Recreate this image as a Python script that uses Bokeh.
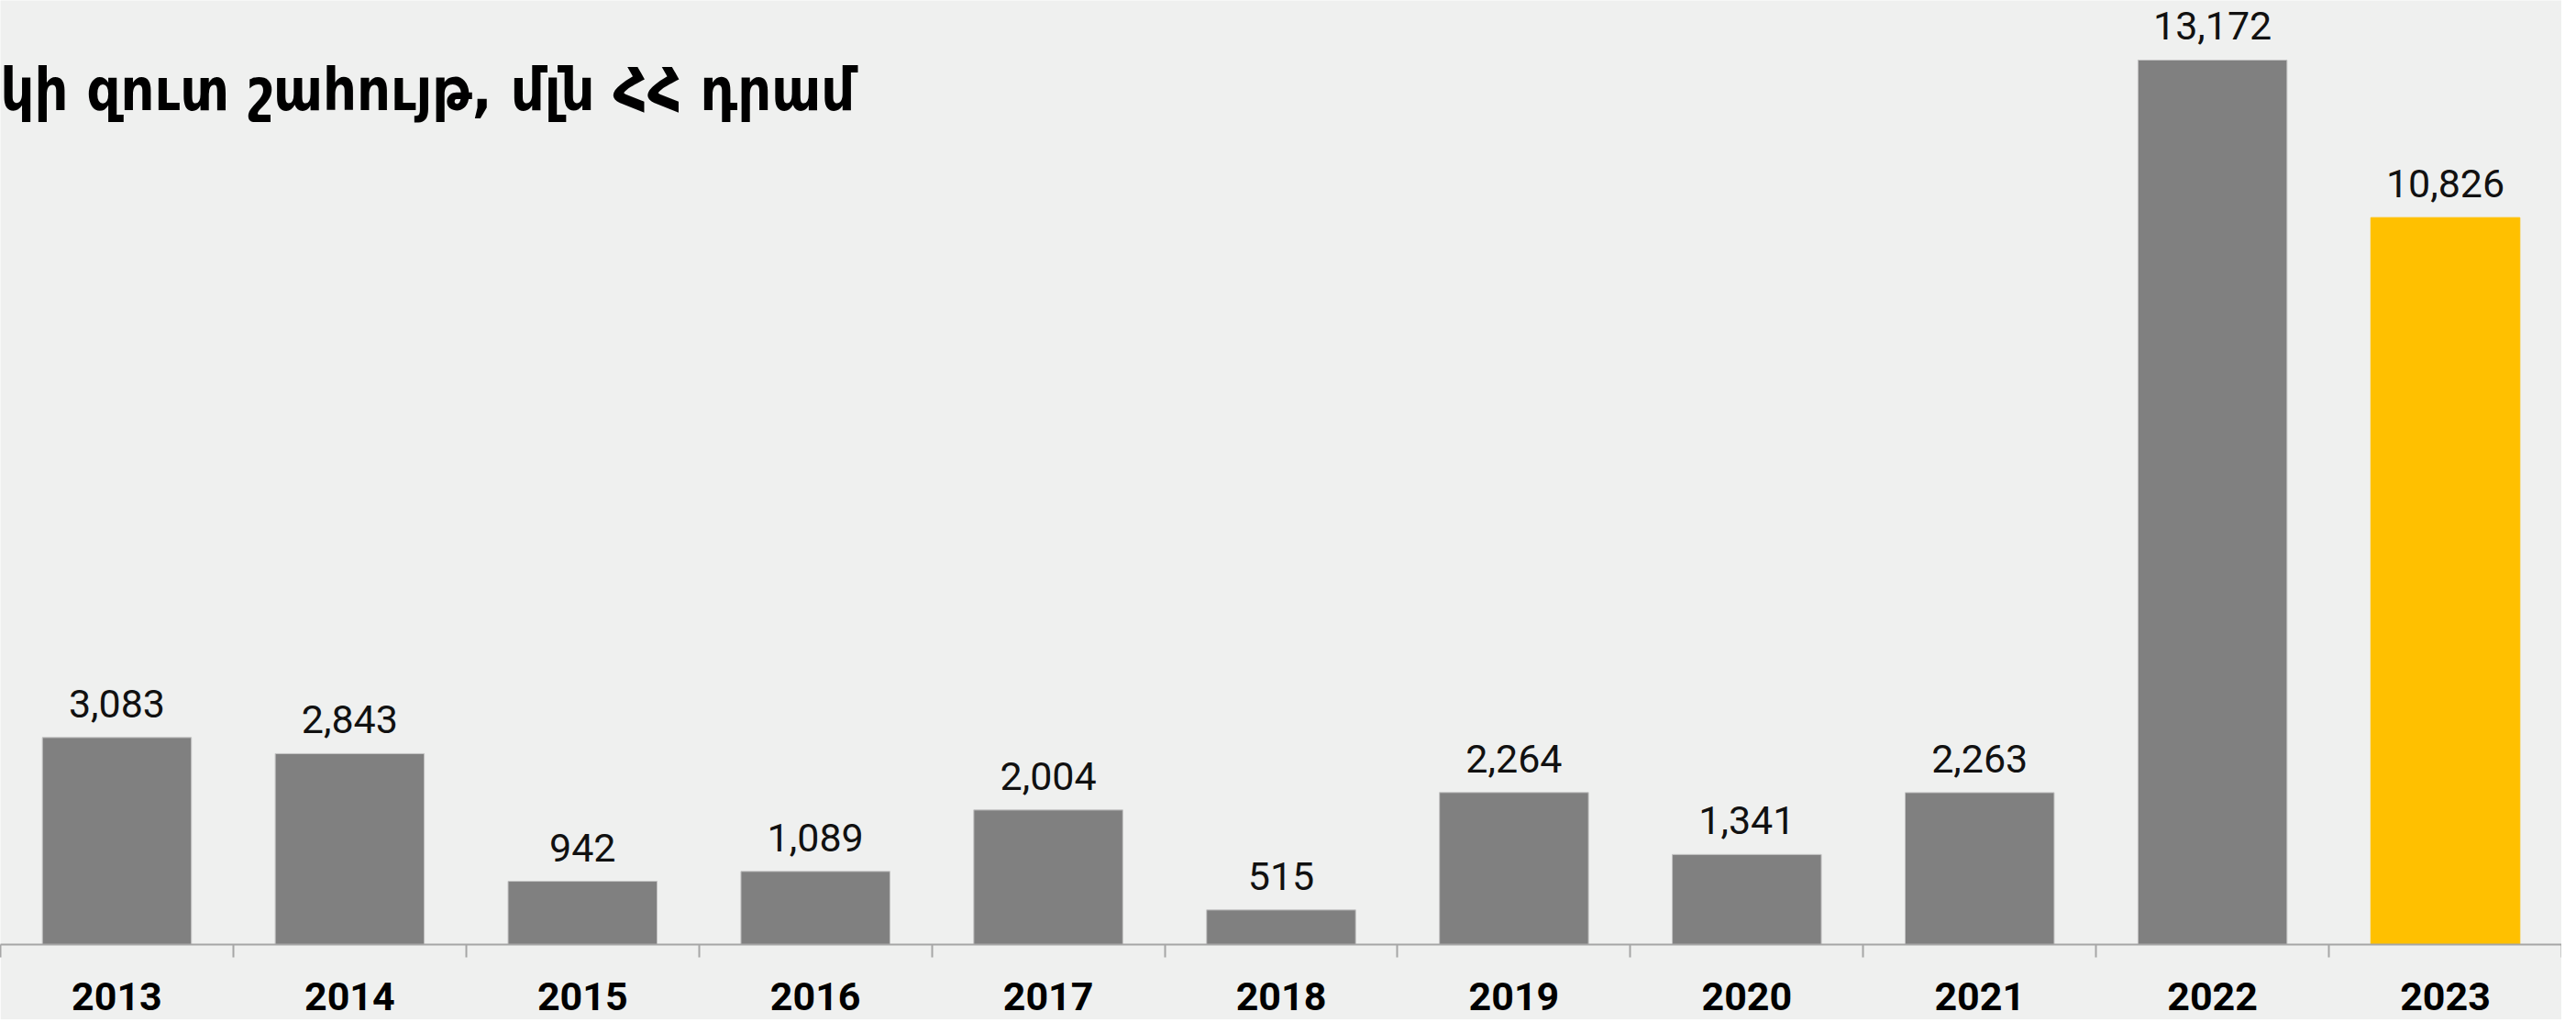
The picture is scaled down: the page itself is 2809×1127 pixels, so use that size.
from bokeh.plotting import figure
from bokeh.models import ColumnDataSource, Range1d, FixedTicker, Label
from bokeh.embed import file_html
from bokeh.resources import INLINE
from bokeh.core.properties import value

# ---- data ----
years = ["2013", "2014", "2015", "2016", "2017", "2018", "2019", "2020", "2021", "2022", "2023"]
profit = [3083, 2843, 942, 1089, 2004, 515, 2264, 1341, 2263, 13172, 10826]
title_text = "կի զուտ շահույթ, մլն ՀՀ դրամ"
highlight_year = "2023"

GREY = "#808080"
GOLD = "#FFC000"
BG = "#EFF0EF"

n = len(years)
centers = [i + 0.5 for i in range(n)]
colors = [GOLD if y == highlight_year else GREY for y in years]
outlines = [GOLD if y == highlight_year else "#C4C4C4" for y in years]
labels = [f"{v:,}" for v in profit]

src = ColumnDataSource(dict(x=centers, top=profit, color=colors, outline=outlines, label=labels))

W, H = 2793, 1111
p = figure(width=W, height=H, output_backend="svg", toolbar_location=None,
           x_range=Range1d(0, n), y_range=Range1d(0, 14060),
           min_border_left=0, min_border_right=0, min_border_top=0, min_border_bottom=82)
p.background_fill_color = BG
p.border_fill_color = BG
p.outline_line_color = None
p.grid.grid_line_color = None
p.yaxis.visible = False

p.vbar(x="x", top="top", bottom=0, width=0.64, source=src,
       fill_color="color", line_color="outline", line_width=1)

p.text(x="x", y="top", text="label", source=src, text_align="center",
       text_baseline="bottom", y_offset=-22, text_font=value("Roboto"),
       text_font_size="43px", text_color="#111111")

ax = p.xaxis[0]
ax.ticker = FixedTicker(ticks=centers, minor_ticks=list(range(n + 1)))
ax.major_label_overrides = {c: y for c, y in zip(centers, years)}
ax.major_tick_out = 0
ax.major_tick_in = 0
ax.minor_tick_out = 14
ax.minor_tick_in = 0
ax.axis_line_color = "#A6A6A6"
ax.axis_line_width = 2
ax.minor_tick_line_color = "#A6A6A6"
ax.minor_tick_line_width = 2
ax.major_label_text_font = "Roboto"
ax.major_label_text_font_style = "bold"
ax.major_label_text_font_size = "43px"
ax.major_label_text_color = "#000000"
ax.major_label_standoff = 27

title = Label(x=0, y=12734, text=title_text,
              text_font="'DejaVu Sans Condensed', 'DejaVu Sans'",
              text_font_style="bold", text_font_size="64px", text_color="#000000",
              text_baseline="alphabetic", text_align="left")
p.add_layout(title)

open("out.html", "w").write(file_html(p, INLINE))
